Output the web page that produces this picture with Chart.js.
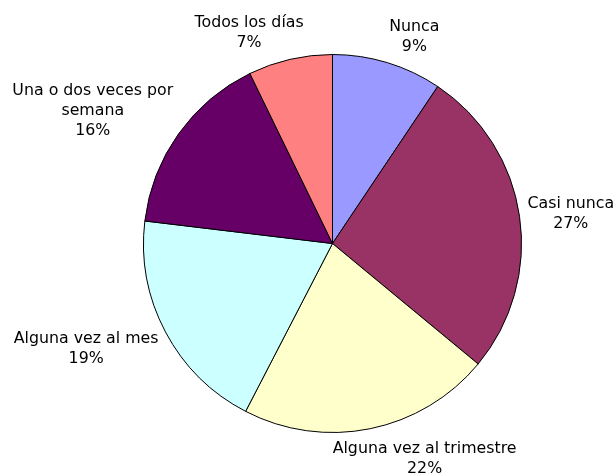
<!DOCTYPE html>
<html>
<head>
<meta charset="utf-8">
<script src="https://cdn.jsdelivr.net/npm/chart.js@4"></script>
<style>
  html, body { margin: 0; padding: 0; background: #fff; }
  canvas { display: block; }
</style>
</head>
<body>
<canvas id="grafico" width="614" height="475"></canvas>
<script>
// Frecuencia - categorías y porcentajes
const categorias = ['Nunca', 'Casi nunca', 'Alguna vez al trimestre', 'Alguna vez al mes', 'Una o dos veces por semana', 'Todos los días'];
const valores = [9.4, 26.6, 21.6, 19.3, 15.9, 7.2];
const colores = ['#9999FF', '#993366', '#FFFFCC', '#CCFFFF', '#660066', '#FF8080'];

// texto de cada etiqueta (saltos de línea como en el original)
const lineasEtiqueta = [
  ['Nunca'],
  ['Casi nunca'],
  ['Alguna vez al trimestre'],
  ['Alguna vez al mes'],
  ['Una o dos veces por', 'semana'],
  ['Todos los días']
];

const FUENTE = '15.8px "DejaVu Sans", Verdana, sans-serif';
const ALTO_LINEA = 20;
// pequeños ajustes a mano de las etiquetas (px), como las dejó Excel
const ajusteEtiqueta = [[18, 3], [2, 5], [46, -11], [-11, -19], [-15, 27], [-33, 8]];

// dibuja las etiquetas fuera de la tarta, en la dirección del centro de cada porción
const etiquetasFuera = {
  id: 'etiquetasFuera',
  afterDatasetsDraw(chart) {
    const ctx = chart.ctx;
    const meta = chart.getDatasetMeta(0);
    const total = valores.reduce((a, b) => a + b, 0);
    ctx.save();
    ctx.font = FUENTE;
    ctx.fillStyle = '#000';
    ctx.textAlign = 'center';
    ctx.textBaseline = 'middle';
    meta.data.forEach((arc, i) => {
      const lineas = lineasEtiqueta[i].concat([Math.round(valores[i] / total * 100) + '%']);
      const ancho = Math.max(...lineas.map(l => ctx.measureText(l).width));
      const alto = lineas.length * ALTO_LINEA;
      const medio = (arc.startAngle + arc.endAngle) / 2;
      const ux = Math.cos(medio);
      const uy = Math.sin(medio);
      const dist = arc.outerRadius + 4 + Math.abs(ux) * ancho / 2 + Math.abs(uy) * alto / 2;
      const cx = arc.x + ux * dist + ajusteEtiqueta[i][0];
      const cy = arc.y + uy * dist + ajusteEtiqueta[i][1];
      lineas.forEach((l, k) => {
        ctx.fillText(l, cx, cy - alto / 2 + ALTO_LINEA * (k + 0.5));
      });
    });
    ctx.restore();
  }
};

new Chart(document.getElementById('grafico'), {
  type: 'pie',
  data: {
    labels: categorias,
    datasets: [{
      data: valores,
      backgroundColor: colores,
      borderColor: '#000',
      borderWidth: 1
    }]
  },
  options: {
    responsive: false,
    animation: false,
    layout: { padding: { left: 143, right: 92, top: 54, bottom: 42 } },
    plugins: {
      legend: { display: false },
      tooltip: { enabled: false }
    }
  },
  plugins: [etiquetasFuera]
});
</script>
</body>
</html>
